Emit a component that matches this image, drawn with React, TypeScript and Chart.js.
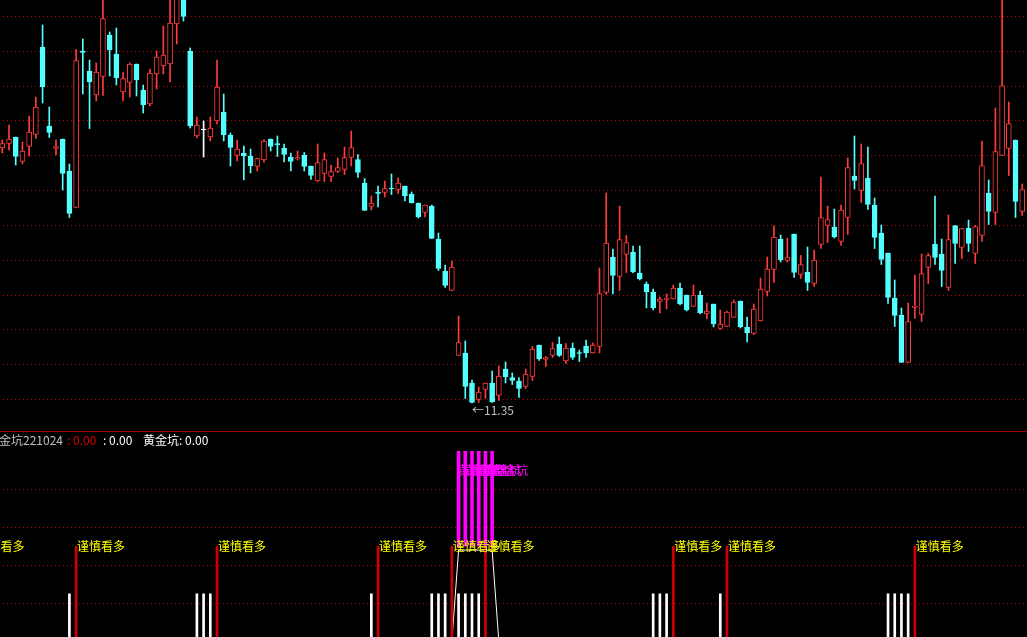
import React, { useEffect, useRef } from 'react';
import { Chart, registerables } from 'chart.js';

Chart.register(...registerables);

// ---------------- DATA ----------------
const OPEN = [
  16.45, 16.54, 16.67, 16.18, 16.48, 16.72, 18.47, 16.89, 16.44, 16.63,
  15.99, 15.26, 18.39, 17.99, 17.51, 17.88, 18.71, 18.33, 17.57, 17.76,
  18.13, 17.61, 17.33, 17.93, 18.09, 18.13, 18.93, 19.65, 18.39, 16.69,
  16.82, 16.67, 16.99, 17.17, 16.71, 16.30, 16.35, 16.29, 16.08, 16.21,
  16.63, 16.54, 16.45, 16.27, 16.23, 16.31, 16.09, 15.79, 15.94, 15.88,
  15.98, 16.02, 16.26, 16.22, 15.75, 15.28, 15.57, 15.56, 15.65, 15.62,
  15.69, 15.53, 15.35, 15.16, 15.29, 14.63, 13.99, 13.60, 12.30, 12.35,
  11.75, 11.42, 11.62, 11.75, 11.50, 12.03, 11.86, 11.79, 11.68, 11.88,
  12.51, 12.22, 12.30, 12.53, 12.19, 12.45, 12.36, 12.49, 12.35, 12.48,
  13.56, 14.27, 13.88, 14.32, 14.37, 13.95, 13.73, 13.57, 13.38, 13.42,
  13.43, 13.65, 13.51, 13.28, 13.51, 13.13, 13.33, 12.84, 12.88, 13.06,
  13.39, 12.87, 12.74, 12.99, 13.58, 14.02, 14.63, 14.20, 14.73, 13.92,
  13.97, 13.74, 14.52, 14.90, 14.87, 14.58, 15.06, 15.89, 15.60, 15.85,
  15.31, 14.75, 14.35, 13.45, 13.11, 12.16, 13.26, 13.12, 14.06, 14.53,
  14.33, 13.66, 14.90, 14.46, 14.85, 14.34, 14.70, 15.55, 15.16, 16.30,
  16.44, 16.61, 15.18,
];
const HIGH = [
  16.61, 16.91, 16.67, 16.57, 17.09, 17.47, 18.91, 17.27, 16.61, 16.63,
  16.13, 18.42, 18.63, 18.21, 18.15, 19.45, 18.77, 18.85, 17.97, 18.15,
  18.13, 17.71, 18.03, 18.39, 18.89, 19.57, 19.91, 19.81, 18.45, 17.07,
  16.99, 17.07, 18.21, 17.53, 16.75, 16.61, 16.49, 16.43, 16.25, 16.62,
  16.63, 16.69, 16.53, 16.35, 16.39, 16.36, 16.09, 16.53, 16.35, 16.11,
  16.25, 16.47, 16.79, 16.32, 15.84, 15.49, 15.69, 15.79, 15.93, 15.85,
  15.69, 15.57, 15.35, 15.31, 15.31, 14.75, 14.11, 14.19, 13.09, 12.59,
  11.81, 11.67, 11.75, 11.99, 12.09, 12.17, 11.95, 11.86, 12.03, 12.48,
  12.51, 12.28, 12.56, 12.67, 12.54, 12.55, 12.41, 12.61, 12.55, 14.05,
  15.55, 14.43, 15.29, 14.70, 14.49, 14.49, 13.77, 13.63, 13.47, 13.53,
  13.71, 13.75, 13.51, 13.71, 13.59, 13.35, 13.33, 13.21, 13.19, 13.41,
  13.39, 13.07, 13.33, 13.85, 14.27, 14.89, 14.71, 14.65, 14.73, 14.30,
  14.47, 14.41, 15.87, 15.29, 15.23, 15.31, 16.25, 16.69, 16.53, 16.47,
  15.45, 14.91, 14.35, 13.81, 13.25, 13.35, 13.91, 14.33, 14.34, 15.49,
  14.63, 15.11, 14.90, 14.84, 15.01, 14.90, 16.59, 15.81, 17.25, 19.47,
  17.37, 16.61, 15.73,
];
const LOW = [
  16.35, 16.41, 16.11, 16.13, 16.29, 16.64, 17.35, 16.66, 16.31, 15.61,
  15.06, 15.26, 17.53, 16.84, 17.39, 17.50, 17.89, 17.71, 17.39, 17.47,
  17.49, 17.15, 17.29, 17.63, 17.93, 17.77, 18.53, 18.99, 16.85, 16.65,
  16.27, 16.59, 16.93, 16.59, 16.09, 16.19, 15.81, 15.95, 15.99, 16.16,
  16.39, 16.28, 16.17, 15.99, 16.21, 15.99, 15.82, 15.78, 15.78, 15.78,
  15.96, 15.92, 16.09, 15.86, 15.20, 15.21, 15.27, 15.47, 15.52, 15.54,
  15.39, 15.35, 15.05, 15.07, 14.64, 14.00, 13.66, 13.60, 12.30, 11.44,
  11.35, 11.36, 11.44, 11.36, 11.40, 11.75, 11.72, 11.46, 11.64, 11.80,
  12.20, 12.08, 12.26, 12.28, 12.14, 12.22, 12.18, 12.26, 12.35, 12.35,
  13.52, 13.53, 13.60, 13.96, 13.95, 13.81, 13.25, 13.21, 13.15, 13.23,
  13.43, 13.31, 13.19, 13.28, 13.13, 13.03, 12.87, 12.82, 12.88, 13.06,
  12.85, 12.57, 12.72, 12.99, 13.49, 13.76, 14.17, 14.17, 13.86, 13.84,
  13.60, 13.68, 14.44, 14.56, 14.65, 14.50, 14.72, 15.63, 15.36, 15.22,
  14.44, 14.12, 13.34, 12.88, 12.16, 12.16, 13.04, 12.98, 13.74, 14.12,
  13.68, 13.60, 14.14, 14.24, 14.38, 14.14, 14.58, 14.92, 14.92, 16.30,
  15.90, 15.06, 15.10,
];
const CLOSE = [
  16.54, 16.63, 16.28, 16.39, 16.77, 17.27, 17.67, 16.76, 16.48, 15.94,
  15.14, 18.20, 18.36, 17.77, 17.97, 19.04, 18.41, 17.85, 17.84, 18.13,
  17.81, 17.31, 17.95, 18.27, 18.31, 18.95, 19.71, 19.08, 16.89, 16.91,
  16.82, 16.85, 17.67, 16.71, 16.46, 16.43, 16.29, 16.09, 16.24, 16.59,
  16.48, 16.51, 16.32, 16.18, 16.26, 16.08, 15.90, 16.16, 16.22, 15.98,
  16.06, 16.26, 16.46, 15.96, 15.20, 15.35, 15.54, 15.64, 15.63, 15.75,
  15.49, 15.35, 15.07, 15.31, 14.64, 14.04, 13.70, 14.07, 12.56, 11.68,
  11.36, 11.57, 11.75, 11.37, 11.89, 11.87, 11.80, 11.64, 11.93, 12.43,
  12.23, 12.26, 12.44, 12.30, 12.45, 12.26, 12.34, 12.35, 12.51, 13.54,
  14.55, 13.90, 14.62, 14.56, 13.97, 13.83, 13.57, 13.25, 13.43, 13.45,
  13.65, 13.33, 13.21, 13.51, 13.15, 13.19, 12.93, 12.93, 13.17, 13.37,
  12.87, 12.75, 13.23, 13.63, 14.03, 14.67, 14.21, 14.27, 13.96, 14.12,
  13.76, 14.21, 15.06, 15.02, 14.67, 15.21, 16.06, 15.80, 16.14, 15.32,
  14.66, 14.22, 13.46, 13.10, 12.16, 12.98, 13.29, 13.94, 14.30, 14.26,
  14.00, 14.62, 14.54, 14.84, 14.54, 14.88, 16.10, 15.18, 16.38, 17.70,
  16.94, 15.38, 15.62,
];

// lower pane signals (candle indices)
const WHITE_BAR_IDX = [10, 29, 30, 31, 55, 64, 65, 66, 68, 69, 70, 71, 97, 98, 99, 107, 132, 133, 134, 135];
const RED_LINE_IDX = [-4, 11, 32, 56, 67, 72, 100, 108, 136];
const PIT_IDX = [68, 69, 70, 71, 72, 73];
const WHITE_BAR_VALUE = 1.25;
const RED_LINE_VALUE = 2.5;
const PIT_TOP_VALUE = 5.0;
const PIT_TEXT_VALUE = 4.5;
const PIT_LINE_VALUE = 2.4;
const SIGNAL_TEXT = '谨慎看多';
const PIT_TEXT = '黄金坑';
const LEGEND_NAME = '黄金坑221024';
const LEGEND_V1 = ': 0.00';
const LEGEND_V2 = ': 0.00';
const LEGEND_V3 = '黄金坑: 0.00';

// ---------------- STYLE / LAYOUT ----------------
const W = 1027;
const TOP_H = 431;
const BOT_H = 206;
const X_MIN = -0.3428;
const X_MAX = 152.712;
const Y_MIN = 10.79;
const Y_MAX = 19.41;
const GRID_BASE = 11.43;
const GRID_STEP = 0.6964;
const GRID_COUNT = 12;
const LY_MIN = 0.113;
const LY_MAX = 5.534;
const LOWER_GRID = [1, 2, 3, 4];
const UP = '#ff3c3c';
const DOWN = '#54ffff';
const FLAT = '#ffffff';
const GRID_COLOR = '#b40000';
const FONT = '12px "Noto Sans CJK SC", "Noto Sans", sans-serif';

const colorOf = (i: number) =>
  CLOSE[i] > OPEN[i] ? UP : CLOSE[i] < OPEN[i] ? DOWN : FLAT;

const upperGridValues = () => {
  const t: number[] = [];
  for (let k = 0; k < GRID_COUNT; k++) t.push(GRID_BASE + k * GRID_STEP);
  return t;
};

// dotted horizontal grid lines drawn from the y scale
const makeGridPlugin = (values: () => number[]) => ({
  id: 'dotGrid',
  beforeDatasetsDraw(chart: any) {
    const { ctx, scales, chartArea } = chart;
    ctx.save();
    ctx.strokeStyle = GRID_COLOR;
    ctx.lineWidth = 1;
    ctx.setLineDash([1, 3]);
    ctx.lineDashOffset = 1;
    values().forEach((v) => {
      const py = Math.round(scales.y.getPixelForValue(v)) + 0.5;
      ctx.beginPath();
      ctx.moveTo(chartArea.left, py);
      ctx.lineTo(chartArea.right, py);
      ctx.stroke();
    });
    ctx.restore();
  },
});

export default function App() {
  const topRef = useRef<HTMLCanvasElement | null>(null);
  const botRef = useRef<HTMLCanvasElement | null>(null);

  useEffect(() => {
    document.body.style.margin = '0';
    document.body.style.background = '#000';
    const idx = OPEN.map((_, i) => i);
    const colors = idx.map(colorOf);
    const MIN_BODY = 0.02;
    const bodyData = idx.map((i) => {
      let lo = Math.min(OPEN[i], CLOSE[i]);
      let hi = Math.max(OPEN[i], CLOSE[i]);
      if (hi - lo < MIN_BODY) {
        const m = (hi + lo) / 2;
        lo = m - MIN_BODY / 2;
        hi = m + MIN_BODY / 2;
      }
      return { x: i, y: [lo, hi] };
    });
    const wickData = idx.map((i) => ({ x: i, y: [LOW[i], HIGH[i]] }));

    let minI = 0;
    LOW.forEach((v, i) => { if (v < LOW[minI]) minI = i; });

    const lowLabel = {
      id: 'lowLabel',
      afterDatasetsDraw(chart: any) {
        const { ctx, scales } = chart;
        ctx.save();
        ctx.font = FONT;
        ctx.fillStyle = '#c0c0c0';
        ctx.textBaseline = 'middle';
        ctx.textAlign = 'left';
        ctx.fillText('←' + LOW[minI].toFixed(2), scales.x.getPixelForValue(minI), scales.y.getPixelForValue(LOW[minI]) + 7);
        ctx.restore();
      },
    };

    const top = new Chart(topRef.current as HTMLCanvasElement, {
      type: 'bar',
      data: {
        datasets: [
          {
            data: wickData as any,
            backgroundColor: colors,
            borderWidth: 0,
            barThickness: 1,
            grouped: false,
            order: 2,
          },
          {
            data: bodyData as any,
            backgroundColor: idx.map((i) => (colors[i] === UP ? '#000000' : colors[i])),
            borderColor: colors,
            borderWidth: 1,
            borderSkipped: false,
            barThickness: 5,
            grouped: false,
            order: 1,
          },
        ],
      },
      options: {
        responsive: false,
        animation: false,
        events: [],
        layout: { padding: 0 },
        plugins: { legend: { display: false }, tooltip: { enabled: false } },
        scales: {
          x: { type: 'linear', min: X_MIN, max: X_MAX, offset: false, display: false },
          y: { type: 'linear', min: Y_MIN, max: Y_MAX, display: false },
        },
      } as any,
      plugins: [makeGridPlugin(upperGridValues), lowLabel],
    });

    const pitLine = idx.map((i) => ({ x: i, y: PIT_IDX.includes(i) ? PIT_LINE_VALUE : 0 }));

    const lowerDecor = {
      id: 'lowerDecor',
      beforeDraw(chart: any) {
        const { ctx } = chart;
        ctx.save();
        ctx.fillStyle = '#a00000';
        ctx.fillRect(0, 0, chart.width, 1);
        ctx.restore();
      },
      afterDatasetsDraw(chart: any) {
        const { ctx, scales } = chart;
        const { x, y } = scales;
        ctx.save();
        ctx.font = FONT;
        ctx.textBaseline = 'middle';
        ctx.textAlign = 'left';
        ctx.fillStyle = '#ffff00';
        RED_LINE_IDX.forEach((i) => ctx.fillText(SIGNAL_TEXT, x.getPixelForValue(i) + 1, y.getPixelForValue(RED_LINE_VALUE)));
        ctx.fillStyle = '#ff00ff';
        PIT_IDX.forEach((i) => ctx.fillText(PIT_TEXT, x.getPixelForValue(i), y.getPixelForValue(PIT_TEXT_VALUE)));
        const ly = 9;
        ctx.fillStyle = '#c0c0c0';
        ctx.fillText(LEGEND_NAME, -13, ly);
        ctx.fillStyle = '#dd0000';
        ctx.fillText(LEGEND_V1, 67, ly);
        ctx.fillStyle = '#ffffff';
        ctx.fillText(LEGEND_V2, 103, ly);
        ctx.fillText(LEGEND_V3, 143, ly);
        ctx.restore();
      },
    };

    const bot = new Chart(botRef.current as HTMLCanvasElement, {
      type: 'bar',
      data: {
        datasets: [
          {
            type: 'line',
            data: pitLine as any,
            borderColor: '#ffffff',
            borderWidth: 1,
            pointRadius: 0,
            tension: 0,
            order: 4,
          } as any,
          {
            data: WHITE_BAR_IDX.map((i) => ({ x: i, y: WHITE_BAR_VALUE })) as any,
            backgroundColor: '#ffffff',
            borderWidth: 0,
            barThickness: 2,
            grouped: false,
            order: 3,
          },
          {
            data: RED_LINE_IDX.map((i) => ({ x: i, y: RED_LINE_VALUE })) as any,
            backgroundColor: '#d00000',
            borderWidth: 0,
            barThickness: 2,
            grouped: false,
            order: 2,
          },
          {
            data: PIT_IDX.map((i) => ({ x: i, y: [RED_LINE_VALUE, PIT_TOP_VALUE] })) as any,
            backgroundColor: '#ff00ff',
            borderWidth: 0,
            barThickness: 3,
            grouped: false,
            order: 1,
          },
        ],
      },
      options: {
        responsive: false,
        animation: false,
        events: [],
        layout: { padding: 0 },
        plugins: { legend: { display: false }, tooltip: { enabled: false } },
        scales: {
          x: { type: 'linear', min: X_MIN, max: X_MAX, offset: false, display: false },
          y: { type: 'linear', min: LY_MIN, max: LY_MAX, display: false },
        },
      } as any,
      plugins: [makeGridPlugin(() => LOWER_GRID), lowerDecor],
    });

    return () => {
      top.destroy();
      bot.destroy();
    };
  }, []);

  return (
    <div style={{ width: W, height: TOP_H + BOT_H, background: '#000', position: 'relative', overflow: 'hidden' }}>
      <canvas ref={topRef} width={W} height={TOP_H} style={{ display: 'block', position: 'absolute', left: 0, top: 0 }} />
      <canvas ref={botRef} width={W} height={BOT_H} style={{ display: 'block', position: 'absolute', left: 0, top: TOP_H }} />
    </div>
  );
}
